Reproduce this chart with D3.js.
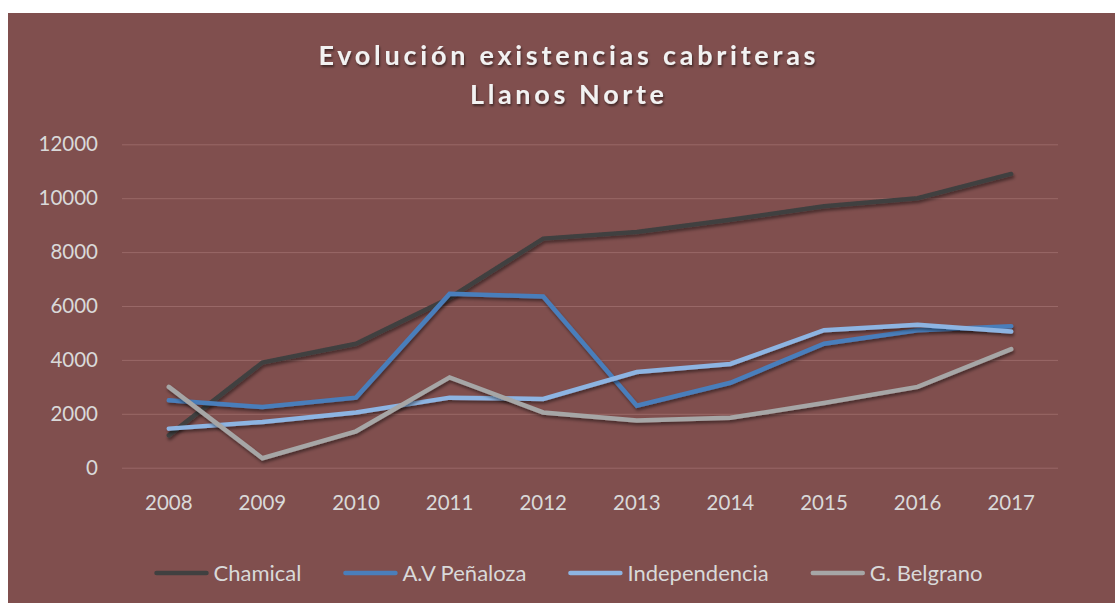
<!DOCTYPE html>
<html>
<head>
<meta charset="utf-8">
<script src="https://cdn.jsdelivr.net/npm/d3@7"></script>
<style>
  html, body { margin: 0; padding: 0; background: #ffffff; }
  svg { display: block; }
  text { font-family: Lato, "Open Sans", sans-serif; }
</style>
</head>
<body>
<svg id="chart" width="1115" height="603"></svg>
<script>
const years = ["2008","2009","2010","2011","2012","2013","2014","2015","2016","2017"];
const chamical      = [1200, 3900, 4600, 6300, 8500, 8750, 9200, 9700, 10000, 10900];
const penaloza      = [2500, 2250, 2600, 6450, 6350, 2300, 3150, 4600, 5100, 5250];
const independencia = [1450, 1700, 2050, 2600, 2550, 3550, 3850, 5100, 5300, 5050];
const belgrano      = [3000, 350, 1350, 3350, 2050, 1750, 1850, 2400, 3000, 4400];
const seriesNames = ["Chamical", "A.V Peñaloza", "Independencia", "G. Belgrano"];
const seriesColors = ["#404040", "#4a7ebb", "#8db4e2", "#a6a6a6"];
const yTicks = [0, 2000, 4000, 6000, 8000, 10000, 12000];
const titleLines = ["Evolución existencias cabriteras", "Llanos Norte"];

const seriesData = [chamical, penaloza, independencia, belgrano];

const svg = d3.select("#chart");
const W = 1115, H = 603;

svg.append("rect").attr("x", 8).attr("y", 13).attr("width", W - 8).attr("height", H - 13)
  .attr("fill", "#804f4e");

const defs = svg.append("defs");
const f = defs.append("filter").attr("id", "shadow").attr("x", "-10%").attr("y", "-10%")
  .attr("width", "120%").attr("height", "130%");
f.append("feDropShadow").attr("dx", 1).attr("dy", 2.5).attr("stdDeviation", 1.6)
  .attr("flood-color", "#000").attr("flood-opacity", 0.45);
const tf = defs.append("filter").attr("id", "tshadow").attr("x", "-5%").attr("y", "-20%")
  .attr("width", "110%").attr("height", "160%");
tf.append("feDropShadow").attr("dx", 1).attr("dy", 2).attr("stdDeviation", 1.2)
  .attr("flood-color", "#000").attr("flood-opacity", 0.5);

const plot = { left: 122, right: 1058, top: 144.3, bottom: 467.7 };

const x = d3.scaleBand().domain(years).range([plot.left, plot.right]).paddingInner(0).paddingOuter(0);
const y = d3.scaleLinear().domain([0, 12000]).range([plot.bottom, plot.top]);

const yAxis = d3.axisLeft(y).tickValues(yTicks).tickSize(-(plot.right - plot.left)).tickPadding(24)
  .tickFormat(d3.format("d"));
const gy = svg.append("g").attr("transform", `translate(${plot.left},0)`).call(yAxis);
gy.select(".domain").remove();
gy.selectAll(".tick line").attr("stroke", "#996867").attr("stroke-width", 1);
gy.selectAll(".tick text").attr("fill", "#d9d9d9").style("font-size", "20.5px")
  .style("font-family", "Lato, sans-serif");

const xAxis = d3.axisBottom(x).tickSize(0).tickPadding(28);
const gx = svg.append("g").attr("transform", `translate(0,${plot.bottom})`).call(xAxis);
gx.select(".domain").remove();
gx.selectAll(".tick text").attr("fill", "#d9d9d9").style("font-size", "20.5px")
  .style("font-family", "Lato, sans-serif");

const line = d3.line().x((d, i) => x(years[i]) + x.bandwidth() / 2).y(d => y(d));
seriesData.forEach((s, k) => {
  svg.append("path").datum(s).attr("d", line).attr("fill", "none")
    .attr("stroke", seriesColors[k]).attr("stroke-width", 4.5)
    .attr("stroke-linecap", "round").attr("stroke-linejoin", "miter")
    .attr("filter", "url(#shadow)");
});

const titleCenter = 567;
const titleTargets = [497, 194];
const titleBaselines = [65, 104];
titleLines.forEach((t, i) => {
  const tx = svg.append("text").attr("x", titleCenter).attr("y", titleBaselines[i])
    .attr("text-anchor", "middle").attr("fill", "#f2f2f2")
    .style("font-size", "27px").style("font-weight", "bold")
    .attr("filter", "url(#tshadow)").text(t);
  const len = tx.node().getComputedTextLength();
  const sp = (titleTargets[i] - len) / (t.length - 1);
  tx.style("letter-spacing", sp + "px");
  tx.attr("x", titleCenter + sp / 2);
});

const legendY = 573;
const sw = 54, gapText = 5, gapItem = 42;
const lg = svg.append("g");
let cx = 0;
seriesNames.forEach((n, k) => {
  const g = lg.append("g").attr("transform", `translate(${cx},0)`);
  g.append("line").attr("x1", 2).attr("x2", sw - 2).attr("y1", legendY).attr("y2", legendY)
    .attr("stroke", seriesColors[k]).attr("stroke-width", 4.5).attr("stroke-linecap", "round");
  const t = g.append("text").attr("x", sw + gapText).attr("y", legendY).attr("dy", "0.35em")
    .attr("fill", "#d9d9d9").style("font-size", "22px").text(n);
  const w = t.node().getComputedTextLength();
  cx += sw + gapText + w + gapItem;
});
const total = cx - gapItem;
lg.attr("transform", `translate(${568.5 - total / 2},0)`);
</script>
</body>
</html>
